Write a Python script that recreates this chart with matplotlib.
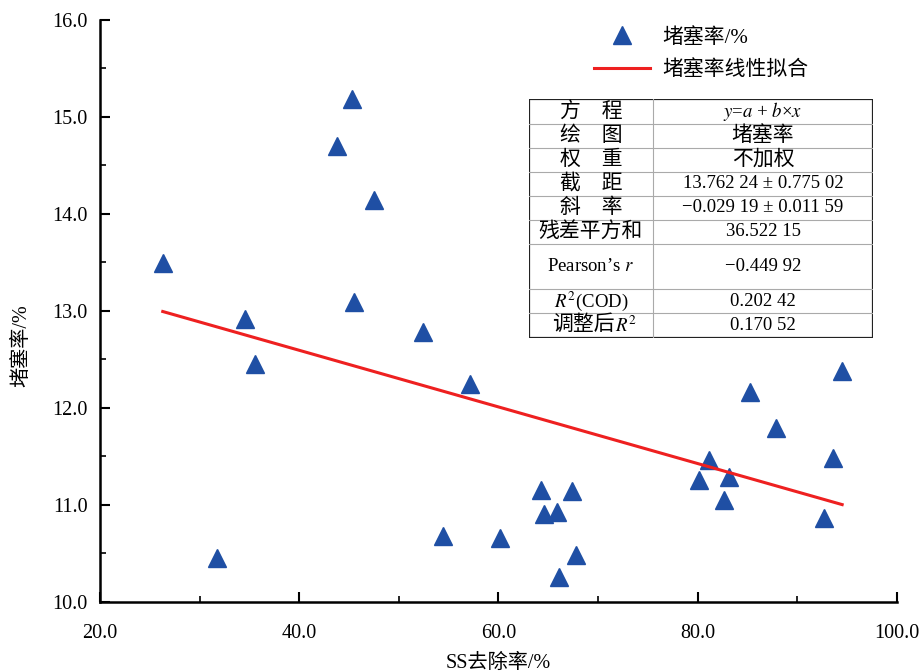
import numpy as np
import matplotlib
matplotlib.use("Agg")
import matplotlib.pyplot as plt

plt.rcParams['font.family'] = ['Liberation Serif', 'Noto Sans CJK SC']
plt.rcParams['mathtext.fontset'] = 'stix'
plt.rcParams['axes.unicode_minus'] = False

# SS removal rate (%) and clogging rate (%)
ss_removal = [26.3, 31.7, 34.6, 35.6, 43.8, 45.3, 45.5, 47.5, 52.4, 54.4,
              57.1, 60.2, 64.3, 64.6, 65.9, 66.1, 67.4, 67.8, 80.1, 81.1,
              82.6, 83.1, 85.2, 87.9, 92.7, 93.6, 94.5]
clog_rate = [13.49, 10.45, 12.92, 12.45, 14.70, 15.19, 13.09, 14.14, 12.78, 10.68,
             12.25, 10.66, 11.15, 10.91, 10.93, 10.26, 11.14, 10.48, 11.26, 11.46,
             11.05, 11.29, 12.16, 11.79, 10.87, 11.48, 12.38]

intercept = 13.76224
slope = -0.02919

x_ticks = [20, 40, 60, 80, 100]
y_ticks = [10, 11, 12, 13, 14, 15, 16]

table_labels = ['方\u3000程', '绘\u3000图', '权\u3000重', '截\u3000距', '斜\u3000率',
                '残差平方和', "Pearson’s $r$", '$R^2$(COD)', '调整后']
table_values = ['$y$=$a$ + $b$×$x$', '堵塞率', '不加权',
                '13.762 24 ± 0.775 02', '−0.029 19 ± 0.011 59',
                '36.522 15', '−0.449 92', '0.202 42', '0.170 52']
row_heights = [25, 24, 24, 24, 24, 24, 45, 24, 25]

blue = '#1f4fa4'
red = '#ee2020'

fig = plt.figure(figsize=(9.19, 6.72), dpi=100)
ax = fig.add_axes([0.1088, 0.1042, 0.8672, 0.8661])

ax.plot(ss_removal, clog_rate, linestyle='none', marker='^', markersize=13,
        color=blue, label='堵塞率/%')
xs = np.array([min(ss_removal), max(ss_removal)])
ax.plot(xs, intercept + slope * xs, color=red, lw=2.2, label='堵塞率线性拟合')

ax.set_xlim(20, 100)
ax.set_ylim(10, 16)
ax.set_xticks(x_ticks)
ax.set_xticklabels([f'{v:.1f}' for v in x_ticks])
ax.set_yticks(y_ticks)
ax.set_yticklabels([f'{v:.1f}' for v in y_ticks])
ax.set_xticks([30, 50, 70, 90], minor=True)
ax.set_yticks([10.5, 11.5, 12.5, 13.5, 14.5, 15.5], minor=True)
ax.tick_params(which='major', direction='in', length=7, width=1.5, labelsize=14.5)
ax.tick_params(axis='x', which='major', pad=16)
ax.tick_params(axis='y', which='major', pad=9)
ax.tick_params(which='minor', direction='in', length=4, width=1.2)
for s in ['top', 'right']:
    ax.spines[s].set_visible(False)
for s in ['left', 'bottom']:
    ax.spines[s].set_linewidth(1.8)

ax.set_xlabel('SS去除率/%', fontsize=14.5, labelpad=8)
ax.set_ylabel('堵塞率/%', fontsize=14.5)
ax.yaxis.set_label_coords(-0.086, 0.44)

ax.legend(loc='upper left', bbox_to_anchor=(594 / 919, 1 - 28 / 672),
          bbox_transform=fig.transFigure, frameon=False, borderpad=0,
          borderaxespad=0, fontsize=15, handlelength=2.7, handletextpad=0.6,
          labelspacing=0.6)

# fit results table
tax = fig.add_axes([529 / 919, 1 - 338 / 672, 344 / 919, 239 / 672])
tax.set_xlim(0, 344)
tax.set_ylim(239, 0)
tax.axis('off')
tax.add_patch(plt.Rectangle((0, 0), 344, 239, fill=False, lw=1.6, ec='#222222'))
tax.plot([124, 124], [0, 239], color='#aaaaaa', lw=0.8)
y0 = 0
for i, (lab, val, h) in enumerate(zip(table_labels, table_values, row_heights)):
    if i > 0:
        tax.plot([0, 344], [y0, y0], color='#aaaaaa', lw=0.8)
    yc = y0 + h / 2
    lab_size = 13.5 if '$' in lab else 15
    if lab == '调整后':
        tax.text(86, yc, lab, ha='right', va='center', fontsize=15)
        tax.text(86, yc, '$R^2$', ha='left', va='center', fontsize=13.5)
    else:
        tax.text(62, yc, lab, ha='center', va='center', fontsize=lab_size)
    val_size = 15 if val in ('堵塞率', '不加权') else 13.5
    tax.text(234, yc, val, ha='center', va='center', fontsize=val_size)
    y0 += h

fig.savefig('out.png', dpi=100)
